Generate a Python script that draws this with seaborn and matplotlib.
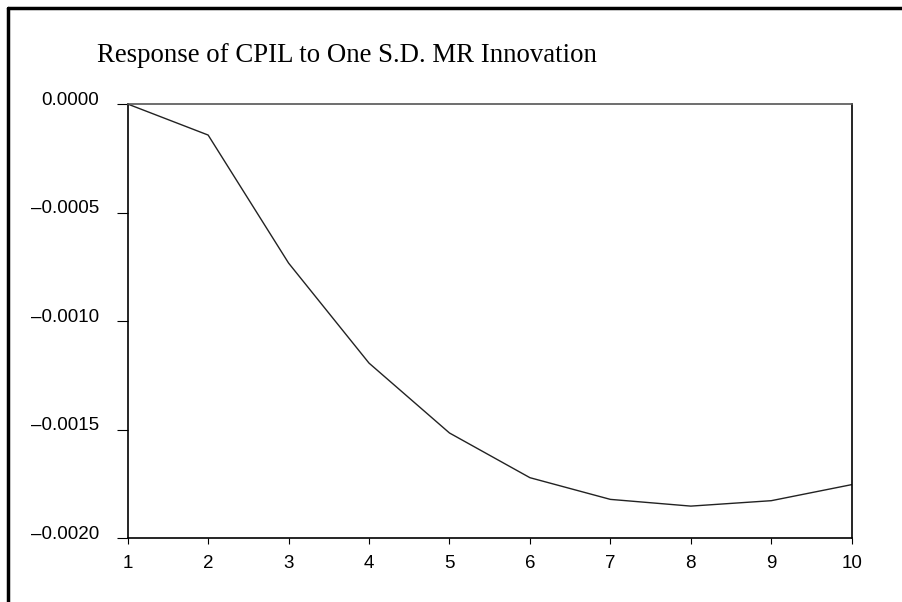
import numpy as np
import pandas as pd
import seaborn as sns
import matplotlib.pyplot as plt
from matplotlib.lines import Line2D
from matplotlib.ticker import FuncFormatter
from matplotlib.transforms import ScaledTranslation

# impulse response values
periods = [1, 2, 3, 4, 5, 6, 7, 8, 9, 10]
response = [0.0, -0.000143, -0.000733, -0.001194, -0.001516,
            -0.001722, -0.001822, -0.001853, -0.001828, -0.001754]
y_ticks = [0.0, -0.0005, -0.0010, -0.0015, -0.0020]
title = "Response of CPIL to One S.D. MR Innovation"

sns.set_style("ticks")
plt.rcParams['font.family'] = ['Liberation Sans', 'DejaVu Sans']
plt.rcParams['text.color'] = 'black'

df = pd.DataFrame({"period": periods, "response": response})

fig = plt.figure(figsize=(9.03, 6.02), dpi=100)
ax = fig.add_axes([0.1414, 0.1063, 0.9432 - 0.1414, 0.8272 - 0.1063])

sns.lineplot(data=df, x="period", y="response", ax=ax, color="#222222", linewidth=1.0)

ax.set_xlim(1, 10)
ax.set_ylim(-0.0020, 0.0)
ax.set_xticks(periods)
ax.set_yticks(y_ticks)
ax.yaxis.set_major_formatter(FuncFormatter(lambda v, p: ("%.4f" % v).replace("-", "\u2013")
                                           if abs(v) > 1e-12 else "0.0000"))
ax.set_xlabel("")
ax.set_ylabel("")

for s in ax.spines.values():
    s.set_visible(True)
    s.set_color("black")
    s.set_linewidth(1.2)
ax.spines['top'].set_color("#555555")

ax.tick_params(axis='y', length=8, width=0.8, pad=12.5, labelsize=13.5, colors="black")
ax.tick_params(axis='x', length=4, width=0.8, pad=8, labelsize=13.5, colors="black")

# y labels sit a little above their ticks
shift = ScaledTranslation(0, 6 / 100, fig.dpi_scale_trans)
for lab in ax.get_yticklabels():
    lab.set_transform(lab.get_transform() + shift)

fig.text(97 / 903, 1 - 55 / 602, title, family=['Liberation Serif', 'DejaVu Serif'],
         fontsize=19.3, ha='left', va='center', color='black')

# outer frame: top and left edges only
fig.add_artist(Line2D([8 / 903, 1.0], [1 - 8 / 602, 1 - 8 / 602], transform=fig.transFigure,
                      color="black", linewidth=2.5))
fig.add_artist(Line2D([8 / 903, 8 / 903], [0.0, 1 - 8 / 602], transform=fig.transFigure,
                      color="black", linewidth=2.5))

fig.savefig("out.png", dpi=100)
